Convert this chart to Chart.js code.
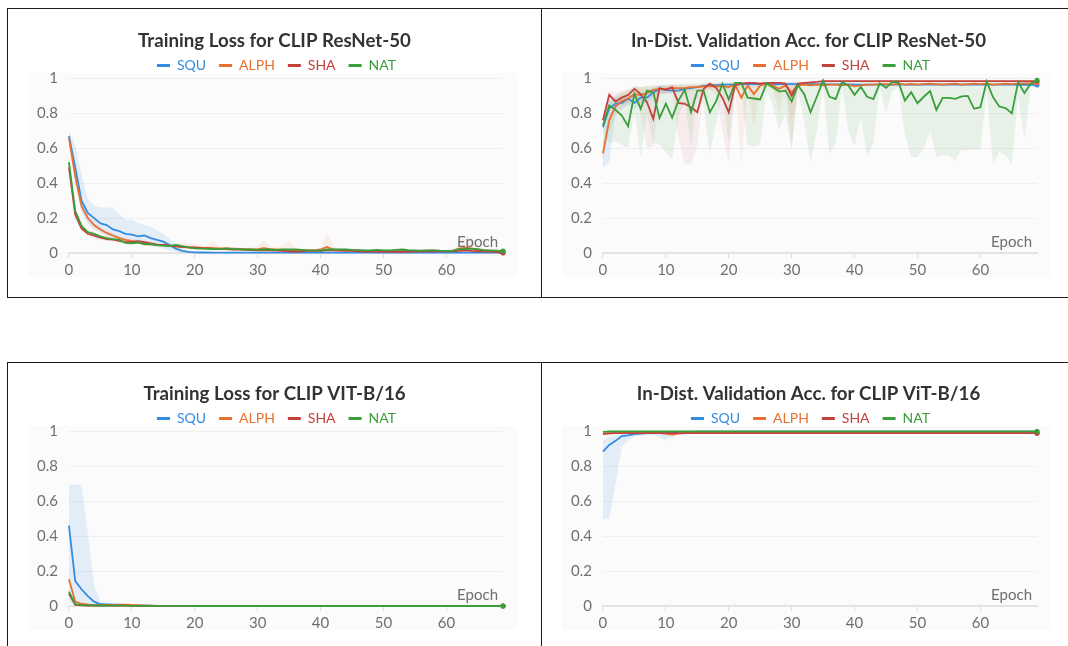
<!DOCTYPE html>
<html>
<head>
<meta charset="utf-8">
<script src="https://cdn.jsdelivr.net/npm/chart.js@4.4.1/dist/chart.umd.min.js"></script>
<style>
html,body{margin:0;padding:0;background:#fff;width:1068px;height:646px;overflow:hidden}
.rule{position:absolute;background:#1c1c1c}
.panel{position:absolute;width:501px;height:262px}
.panel .bg{position:absolute;left:11px;top:53px;width:489px;height:204px;background:#fbfbfc}
.panel canvas{position:absolute;left:0;top:0}
</style>
</head>
<body>
<div class="rule" style="left:7px;top:8px;width:1061px;height:1px"></div>
<div class="rule" style="left:7px;top:297px;width:1061px;height:1px"></div>
<div class="rule" style="left:7px;top:8px;width:1px;height:290px"></div>
<div class="rule" style="left:541px;top:8px;width:1px;height:290px"></div>
<div class="rule" style="left:7px;top:362px;width:1061px;height:1px"></div>
<div class="rule" style="left:7px;top:362px;width:1px;height:284px"></div>
<div class="rule" style="left:541px;top:362px;width:1px;height:284px"></div>

<div class="panel" style="left:17px;top:20px"><div class="bg"></div><canvas id="c1" width="501" height="262"></canvas></div>
<div class="panel" style="left:551px;top:20px"><div class="bg"></div><canvas id="c2" width="501" height="262"></canvas></div>
<div class="panel" style="left:17px;top:373px"><div class="bg"></div><canvas id="c3" width="501" height="262"></canvas></div>
<div class="panel" style="left:551px;top:373px"><div class="bg"></div><canvas id="c4" width="501" height="262"></canvas></div>

<script>
// epochs and ticks
const epochs = [0,1,2,3,4,5,6,7,8,9,10,11,12,13,14,15,16,17,18,19,20,21,22,23,24,25,26,27,28,29,30,31,32,33,34,
  35,36,37,38,39,40,41,42,43,44,45,46,47,48,49,50,51,52,53,54,55,56,57,58,59,60,61,62,63,64,65,66,67,68,69];
const xTicks = [0,10,20,30,40,50,60];
const yTicks = [0,0.2,0.4,0.6,0.8,1];
const seriesNames = ['SQU','ALPH','SHA','NAT'];
const seriesColors = ['#348be2','#e87030','#c4403c','#3a9e3a'];
const bandColors = ['rgba(52,139,226,0.12)','rgba(232,112,48,0.09)','rgba(196,64,60,0.08)','rgba(58,158,58,0.10)'];

// --- Training loss, CLIP ResNet-50
const r50LossSqu = [0.67,0.49,0.30,0.23,0.20,0.17,0.16,0.135,0.125,0.11,
  0.105,0.095,0.10,0.085,0.075,0.065,0.045,0.025,0.012,0.006,
  0.004,0.003,0.003,0.002,0.002,0.002,0.002,0.002,0.002,0.002,
  0.002,0.002,0.002,0.002,0.002,0.002,0.002,0.002,0.002,0.002,
  0.002,0.002,0.002,0.002,0.002,0.002,0.002,0.002,0.002,0.002,
  0.002,0.002,0.002,0.002,0.002,0.002,0.002,0.002,0.002,0.002,
  0.002,0.002,0.002,0.002,0.002,0.002,0.002,0.002,0.002,0.002];
const r50LossAlph = [0.66,0.44,0.27,0.20,0.16,0.135,0.115,0.10,0.085,0.075,
  0.068,0.062,0.057,0.052,0.047,0.045,0.042,0.040,0.036,0.033,
  0.032,0.030,0.029,0.028,0.027,0.026,0.025,0.024,0.022,0.020,
  0.022,0.028,0.022,0.020,0.019,0.018,0.017,0.016,0.015,0.015,
  0.020,0.035,0.020,0.018,0.017,0.016,0.015,0.012,0.012,0.013,
  0.012,0.011,0.011,0.012,0.012,0.012,0.012,0.013,0.013,0.012,
  0.012,0.012,0.025,0.030,0.025,0.018,0.015,0.012,0.010,0.008];
const r50LossSha = [0.49,0.22,0.14,0.11,0.10,0.088,0.080,0.077,0.070,0.062,
  0.063,0.068,0.062,0.055,0.048,0.046,0.042,0.038,0.034,0.032,
  0.030,0.028,0.027,0.025,0.024,0.022,0.020,0.019,0.018,0.016,
  0.015,0.016,0.015,0.014,0.012,0.010,0.008,0.010,0.012,0.012,
  0.012,0.015,0.015,0.014,0.013,0.012,0.010,0.008,0.008,0.008,
  0.007,0.007,0.007,0.007,0.008,0.008,0.008,0.010,0.010,0.010,
  0.010,0.010,0.012,0.015,0.012,0.010,0.010,0.008,0.006,0.000];
const r50LossNat = [0.52,0.24,0.155,0.12,0.11,0.095,0.085,0.080,0.075,0.058,
  0.056,0.060,0.050,0.050,0.045,0.042,0.040,0.046,0.040,0.032,
  0.027,0.025,0.024,0.023,0.022,0.027,0.022,0.022,0.020,0.020,
  0.018,0.020,0.020,0.018,0.020,0.020,0.020,0.018,0.015,0.015,
  0.013,0.020,0.020,0.020,0.020,0.018,0.017,0.015,0.015,0.018,
  0.015,0.015,0.018,0.020,0.017,0.015,0.013,0.015,0.015,0.013,
  0.012,0.012,0.022,0.023,0.025,0.022,0.015,0.015,0.014,0.012];
// min/max bands across runs
const r50LossSquHi = [0.70,0.62,0.45,0.31,0.27,0.26,0.26,0.26,0.22,0.19,0.19,0.17,0.16,0.15,0.13,0.11,0.08,0.05,0.03,0.012,0.006];
const r50LossSquLo = [0.64,0.40,0.23,0.17,0.14,0.12,0.10,0.085,0.075,0.065,0.06,0.055,0.05,0.04,0.035,0.025,0.015,0.008,0.004,0.002,0.001];
const r50LossAlphHi = [0.69,0.48,0.30,0.22,0.18,0.15,0.13,0.115,0.10,0.09,
  0.08,0.075,0.07,0.065,0.06,0.058,0.055,0.055,0.06,0.055,
  0.05,0.045,0.04,0.07,0.035,0.035,0.035,0.033,0.03,0.03,
  0.04,0.07,0.04,0.035,0.04,0.07,0.03,0.025,0.025,0.02,
  0.03,0.12,0.04,0.03,0.025,0.022,0.02,0.018,0.018,0.02,
  0.018,0.017,0.017,0.02,0.018,0.018,0.02,0.02,0.02,0.018,
  0.018,0.02,0.06,0.10,0.08,0.04,0.025,0.02,0.015,0.012];
const r50LossAlphLo = [0.62,0.38,0.24,0.17,0.13,0.11,0.095,0.08,0.07,0.06,
  0.055,0.05,0.045,0.04,0.035,0.033,0.03,0.028,0.025,0.022,
  0.02,0.018,0.017,0.016,0.015,0.014,0.013,0.012,0.011,0.01,
  0.01,0.011,0.01,0.009,0.008,0.008,0.007,0.007,0.006,0.006,
  0.006,0.008,0.006,0.006,0.006,0.005,0.005,0.004,0.004,0.004,
  0.004,0.004,0.004,0.004,0.004,0.004,0.004,0.004,0.004,0.004,
  0.004,0.004,0.006,0.008,0.006,0.005,0.004,0.003,0.002,0.0];
const r50LossShaHi = [0.52,0.26,0.17,0.13,0.12,0.105,0.095,0.09,0.085,0.075,0.075,0.08,0.072,0.065,0.058];
const r50LossShaLo = [0.46,0.19,0.12,0.095,0.085,0.075,0.068,0.064,0.058,0.05,0.05,0.055,0.05,0.045,0.04];

// --- In-dist. validation accuracy, CLIP ResNet-50
const r50AccSqu = [0.72,0.83,0.855,0.86,0.885,0.86,0.89,0.89,0.92,0.94,
  0.935,0.93,0.93,0.94,0.945,0.95,0.958,0.96,0.962,0.964,
  0.965,0.966,0.967,0.967,0.968,0.968,0.968,0.968,0.968,0.968,
  0.968,0.968,0.967,0.967,0.967,0.967,0.966,0.966,0.966,0.966,
  0.965,0.965,0.965,0.965,0.965,0.965,0.965,0.965,0.965,0.965,
  0.965,0.965,0.965,0.965,0.965,0.965,0.965,0.965,0.965,0.965,
  0.964,0.964,0.964,0.964,0.964,0.964,0.963,0.963,0.963,0.962];
const r50AccAlph = [0.57,0.76,0.84,0.87,0.885,0.91,0.905,0.915,0.935,0.94,
  0.94,0.945,0.945,0.945,0.95,0.95,0.955,0.955,0.955,0.955,
  0.95,0.965,0.89,0.96,0.91,0.96,0.97,0.96,0.94,0.96,
  0.92,0.96,0.965,0.96,0.965,0.96,0.965,0.965,0.96,0.965,
  0.955,0.96,0.965,0.965,0.968,0.968,0.965,0.97,0.965,0.968,
  0.965,0.968,0.97,0.968,0.965,0.968,0.97,0.965,0.968,0.97,
  0.968,0.97,0.965,0.968,0.97,0.968,0.97,0.972,0.972,0.975];
const r50AccSha = [0.76,0.906,0.868,0.89,0.905,0.94,0.91,0.864,0.768,0.945,
  0.935,0.95,0.86,0.855,0.835,0.806,0.94,0.97,0.946,0.889,
  0.806,0.96,0.97,0.975,0.975,0.97,0.975,0.975,0.975,0.97,
  0.90,0.97,0.975,0.978,0.98,0.985,0.985,0.985,0.985,0.985,
  0.985,0.985,0.985,0.985,0.985,0.985,0.985,0.985,0.985,0.985,
  0.985,0.985,0.985,0.985,0.985,0.985,0.985,0.985,0.985,0.985,
  0.985,0.985,0.985,0.985,0.985,0.985,0.985,0.985,0.985,0.985];
const r50AccNat = [0.73,0.845,0.82,0.787,0.726,0.912,0.826,0.93,0.92,0.774,
  0.855,0.776,0.873,0.935,0.806,0.93,0.93,0.806,0.87,0.97,
  0.879,0.975,0.975,0.89,0.885,0.88,0.972,0.95,0.925,0.93,
  0.868,0.962,0.91,0.806,0.895,0.988,0.895,0.882,0.98,0.96,
  0.906,0.952,0.895,0.882,0.972,0.946,0.98,0.977,0.873,0.921,
  0.858,0.895,0.927,0.82,0.889,0.889,0.883,0.897,0.90,0.826,
  0.835,0.983,0.893,0.839,0.83,0.80,0.98,0.916,0.97,0.99];
const r50AccNatHi = [0.78,0.88,0.90,0.92,0.93,0.95,0.95,0.96,0.96,0.96,
  0.965,0.965,0.97,0.97,0.97,0.97,0.975,0.975,0.975,0.98,
  0.98,0.98,0.98,0.98,0.98,0.98,0.98,0.98,0.98,0.98,
  0.98,0.98,0.98,0.98,0.98,0.99,0.98,0.98,0.985,0.985,
  0.985,0.985,0.985,0.985,0.985,0.985,0.985,0.985,0.985,0.985,
  0.985,0.985,0.985,0.985,0.985,0.985,0.985,0.985,0.985,0.985,
  0.985,0.985,0.985,0.985,0.985,0.985,0.985,0.985,0.985,0.99];
const r50AccNatLo = [0.70,0.63,0.64,0.62,0.60,0.80,0.55,0.80,0.63,0.62,
  0.58,0.54,0.78,0.86,0.62,0.88,0.85,0.57,0.75,0.92,
  0.62,0.93,0.93,0.62,0.61,0.62,0.93,0.85,0.70,0.80,
  0.60,0.93,0.75,0.52,0.70,0.95,0.57,0.63,0.95,0.70,
  0.61,0.78,0.555,0.63,0.94,0.80,0.93,0.95,0.68,0.55,
  0.55,0.60,0.70,0.55,0.56,0.56,0.53,0.59,0.59,0.59,
  0.59,0.93,0.51,0.58,0.56,0.51,0.90,0.65,0.95,0.97];
const r50AccShaHi = [0.80,0.93,0.92,0.93,0.94,0.96,0.95,0.94,0.94,0.96,0.96,0.965,0.96,0.96,0.96,0.96,
  0.97,0.975,0.97,0.97,0.97,0.975,0.98,0.98,0.98,0.98,0.98,0.98,0.98,0.98,0.98,0.98];
const r50AccShaLo = [0.72,0.85,0.83,0.85,0.86,0.90,0.80,0.60,0.61,0.90,0.92,0.92,0.66,0.51,0.51,0.62,
  0.92,0.94,0.90,0.70,0.51,0.94,0.95,0.95,0.95,0.95,0.95,0.95,0.95,0.94,0.59,0.95];
const r50AccAlphHi = [0.62,0.82,0.89,0.92,0.93,0.95,0.95,0.955,0.96,0.96,0.96,0.965,0.965,0.965,0.965,0.97,
  0.97,0.97,0.97,0.97,0.97,0.975,0.975,0.975,0.975,0.975,0.98,0.975,0.975,0.975,0.975,0.975];
const r50AccAlphLo = [0.52,0.70,0.78,0.83,0.85,0.87,0.87,0.88,0.90,0.91,0.91,0.92,0.92,0.92,0.93,0.93,
  0.93,0.935,0.935,0.935,0.93,0.94,0.52,0.94,0.72,0.94,0.95,0.94,0.80,0.94,0.75,0.94];
const r50AccSquHi = [0.76,0.87,0.89,0.90,0.91,0.91,0.92,0.93,0.95,0.96,0.955,0.95];
const r50AccSquLo = [0.49,0.52,0.80,0.82,0.85,0.82,0.86,0.86,0.89,0.92,0.915,0.91];

// --- Training loss, CLIP ViT-B/16
const vitLossSqu = [0.46,0.143,0.096,0.057,0.025,0.010,0.009,0.008,0.008,0.006,
  0.004,0.003,0.002,0.002,0.001,0.001,0.001,0.001,0.001,0.001,
  0,0,0,0,0,0,0,0,0,0, 0,0,0,0,0,0,0,0,0,0, 0,0,0,0,0,0,0,0,0,0,
  0,0,0,0,0,0,0,0,0,0, 0,0,0,0,0,0,0,0,0,0];
const vitLossAlph = [0.153,0.025,0.013,0.008,0.006,0.005,0.005,0.006,0.007,0.008,
  0.006,0.004,0.003,0.002,0.001,0.001,0.001,0.001,0.001,0.001,
  0,0,0,0,0,0,0,0,0,0, 0,0,0,0,0,0,0,0,0,0, 0,0,0,0,0,0,0,0,0,0,
  0,0,0,0,0,0,0,0,0,0, 0,0,0,0,0,0,0,0,0,0];
const vitLossSha = [0.070,0.006,0.004,0.003,0.002,0.002,0.002,0.002,0.002,0.002,
  0.001,0.001,0.001,0.001,0.001,0.001,0.001,0.001,0.001,0.001,
  0,0,0,0,0,0,0,0,0,0, 0,0,0,0,0,0,0,0,0,0, 0,0,0,0,0,0,0,0,0,0,
  0,0,0,0,0,0,0,0,0,0, 0,0,0,0,0,0,0,0,0,0];
const vitLossNat = [0.082,0.010,0.005,0.004,0.003,0.003,0.002,0.002,0.002,0.002,
  0.001,0.001,0.001,0.001,0.001,0.001,0.001,0.001,0.001,0.001,
  0,0,0,0,0,0,0,0,0,0, 0,0,0,0,0,0,0,0,0,0, 0,0,0,0,0,0,0,0,0,0,
  0,0,0,0,0,0,0,0,0,0, 0,0,0,0,0,0,0,0,0,0];
const vitLossSquHi = [0.695,0.695,0.695,0.42,0.12,0.02,0.018,0.016,0.015,0.012,0.01,0.006];
const vitLossSquLo = [0.02,0.01,0.005,0.004,0.003,0.002,0.002,0.002,0.002,0.001,0.001,0];

// --- In-dist. validation accuracy, CLIP ViT-B/16
const vitAccSqu = [0.885,0.923,0.946,0.973,0.978,0.985,0.988,0.99,0.99,0.992,
  0.99,0.995,0.997,0.998,0.998,0.999,0.999,0.999,0.999,0.999,
  0.999,0.999,0.999,0.999,0.999,0.999,0.999,0.999,0.999,0.999,
  0.999,0.999,0.999,0.999,0.999,0.999,0.999,0.999,0.999,0.999,
  0.999,0.999,0.999,0.999,0.999,0.999,0.999,0.999,0.999,0.999,
  0.999,0.999,0.999,0.999,0.999,0.999,0.999,0.999,0.999,0.999,
  0.999,0.999,0.999,0.999,0.999,0.999,0.999,0.999,0.999,0.999];
const vitAccAlph = [0.985,0.988,0.99,0.99,0.99,0.99,0.99,0.99,0.99,0.99,
  0.988,0.982,0.988,0.99,0.99,0.99,0.99,0.99,0.99,0.99,
  0.99,0.99,0.99,0.99,0.99,0.99,0.99,0.99,0.99,0.99,
  0.99,0.99,0.99,0.99,0.99,0.99,0.99,0.99,0.99,0.99,
  0.99,0.99,0.99,0.99,0.99,0.99,0.99,0.99,0.99,0.99,
  0.99,0.99,0.99,0.99,0.99,0.99,0.99,0.99,0.99,0.99,
  0.99,0.99,0.99,0.99,0.99,0.99,0.99,0.99,0.99,0.99];
const vitAccSha = [0.988,0.99,0.99,0.99,0.99,0.99,0.99,0.99,0.99,0.99,
  0.99,0.99,0.99,0.99,0.99,0.99,0.99,0.99,0.99,0.99,
  0.99,0.99,0.99,0.99,0.99,0.99,0.99,0.99,0.99,0.99,
  0.99,0.99,0.99,0.99,0.99,0.99,0.99,0.99,0.99,0.99,
  0.99,0.99,0.99,0.99,0.99,0.99,0.99,0.99,0.99,0.99,
  0.99,0.99,0.99,0.99,0.99,0.99,0.99,0.99,0.99,0.99,
  0.99,0.99,0.99,0.99,0.99,0.99,0.99,0.99,0.99,0.99];
const vitAccNat = [0.998,1,1,1,1,1,1,1,1,1, 1,1,1,1,1,1,1,1,1,1, 1,1,1,1,1,1,1,1,1,1,
  1,1,1,1,1,1,1,1,1,1, 1,1,1,1,1,1,1,1,1,1, 1,1,1,1,1,1,1,1,1,1, 1,1,1,1,1,1,1,1,1,1];
const vitAccSquHi = [0.95,0.97,0.98,0.99,0.995,0.997,0.998,0.999,1,1,1,1,1,1];
const vitAccSquLo = [0.497,0.497,0.70,0.912,0.95,0.97,0.975,0.978,0.98,0.965,0.946,0.985,0.995,0.998];
const vitAccAlphHi = [0.995,0.996,0.997,0.998,0.998,0.998,0.998,0.998,0.998,0.998,0.998,0.998,0.998,0.998];
const vitAccAlphLo = [0.98,0.985,0.988,0.99,0.99,0.99,0.99,0.99,0.988,0.985,0.975,0.956,0.985,0.99];

const font = 'Lato';
const pts = vals => vals.map((y,i)=>({x:epochs[i], y}));

// axis name sits inside the plot, bottom right
const epochLabel = {
  id:'epochLabel',
  afterLayout(chart){
    // title/legend are centred a little right of the plot box in the original
    chart.titleBlock.left += 10; chart.titleBlock.right += 10;
    chart.legend.left += 12; chart.legend.right += 12;
  },
  afterDraw(chart){
    const {ctx, chartArea} = chart;
    ctx.save();
    ctx.font = '15px ' + font; ctx.fillStyle = '#6e6e6e'; ctx.textAlign = 'right'; ctx.textBaseline = 'alphabetic';
    ctx.fillText('Epoch', chartArea.right - 5, chartArea.bottom - 6);
    ctx.restore();
  }
};

function makeChart(id, title, lines, bands){
  const datasets = lines.map((vals,i)=>({
    label: seriesNames[i], data: pts(vals),
    borderColor: seriesColors[i], backgroundColor: seriesColors[i], borderWidth: 1.8,
    pointRadius: c => c.dataIndex === vals.length-1 ? 2.5 : 0, pointHoverRadius: 0, pointBorderWidth: 0,
    fill: false, tension: 0, order: 3-i, clip: 4
  }));
  bands.forEach(b=>{
    datasets.push({ band:true, label:'', data: pts(b.hi), borderWidth:0, pointRadius:0, backgroundColor: bandColors[b.s], fill:'+1', order:10 });
    datasets.push({ band:true, label:'', data: pts(b.lo), borderWidth:0, pointRadius:0, fill:false, order:10 });
  });
  return new Chart(document.getElementById(id), {
    type:'line',
    data:{ datasets },
    options:{
      responsive:false, animation:false, devicePixelRatio:1,
      layout:{ padding:{ left:9, right:15, top:0, bottom:0 } },
      plugins:{
        title:{ display:true, text:title, color:'#333', font:{ family:font, size:18.7, weight:'bold' }, padding:{ top:10, bottom:-7 } },
        legend:{ maxHeight:33, labels:{ usePointStyle:true, pointStyleWidth:13, padding:13, font:{ family:font, size:14 },
          generateLabels: ch => ch.data.datasets.filter(d=>!d.band).map((d,i)=>({
            text:d.label, fillStyle:d.borderColor, strokeStyle:d.borderColor, fontColor:d.borderColor,
            lineWidth:3, pointStyle:'line', hidden:false, datasetIndex:i })) } },
        tooltip:{ enabled:false }
      },
      scales:{
        x:{ type:'linear', min:0, max:69,
          afterBuildTicks: s => { s.ticks = xTicks.map(v=>({value:v})); },
          grid:{ drawOnChartArea:false, drawTicks:true, tickLength:5, color:'#dcdcdc' },
          border:{ color:'#e3e3e3', width:2 },
          ticks:{ color:'#707070', padding:3, maxRotation:0, font:{ family:font, size:15 } } },
        y:{ min:0, max:1,
          afterBuildTicks: s => { s.ticks = yTicks.map(v=>({value:v})); },
          grid:{ color:'#f0f0f0', drawTicks:false, tickLength:0 },
          border:{ display:false },
          ticks:{ color:'#707070', padding:11, font:{ family:font, size:15 }, callback: v => String(v) } }
      }
    },
    plugins:[epochLabel]
  });
}

makeChart('c1', 'Training Loss for CLIP ResNet-50', [r50LossSqu, r50LossAlph, r50LossSha, r50LossNat], [
  {s:0, hi:r50LossSquHi, lo:r50LossSquLo}, {s:1, hi:r50LossAlphHi, lo:r50LossAlphLo}, {s:2, hi:r50LossShaHi, lo:r50LossShaLo}]);
makeChart('c2', 'In-Dist. Validation Acc. for CLIP ResNet-50', [r50AccSqu, r50AccAlph, r50AccSha, r50AccNat], [
  {s:3, hi:r50AccNatHi, lo:r50AccNatLo}, {s:2, hi:r50AccShaHi, lo:r50AccShaLo}, {s:1, hi:r50AccAlphHi, lo:r50AccAlphLo}, {s:0, hi:r50AccSquHi, lo:r50AccSquLo}]);
makeChart('c3', 'Training Loss for CLIP VIT-B/16', [vitLossSqu, vitLossAlph, vitLossSha, vitLossNat], [
  {s:0, hi:vitLossSquHi, lo:vitLossSquLo}]);
makeChart('c4', 'In-Dist. Validation Acc. for CLIP ViT-B/16', [vitAccSqu, vitAccAlph, vitAccSha, vitAccNat], [
  {s:0, hi:vitAccSquHi, lo:vitAccSquLo}, {s:1, hi:vitAccAlphHi, lo:vitAccAlphLo}]);
</script>
</body>
</html>
